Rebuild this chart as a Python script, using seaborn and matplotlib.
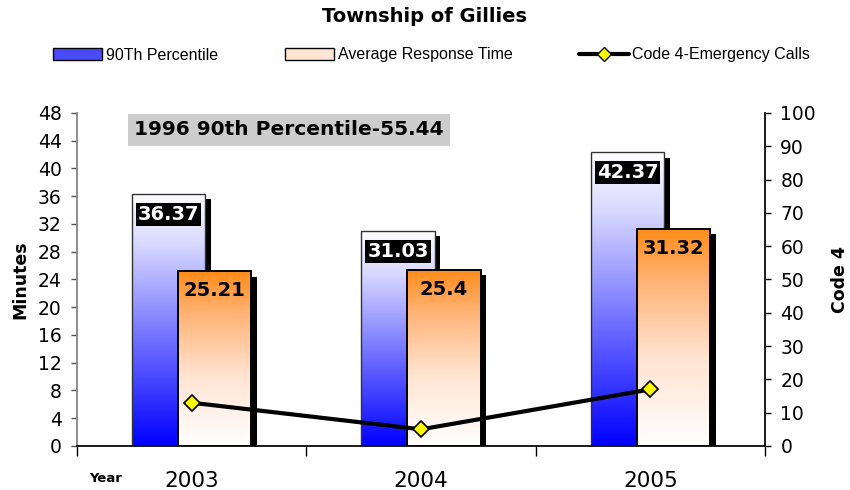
import numpy as np
import pandas as pd
import matplotlib
matplotlib.use("Agg")
import matplotlib.pyplot as plt
import matplotlib.patheffects as pe
from matplotlib.colors import LinearSegmentedColormap
from matplotlib.patches import Rectangle, Patch
from matplotlib.lines import Line2D
import seaborn as sns

# --- chart data ---
years = ["2003", "2004", "2005"]
pct90 = [36.37, 31.03, 42.37]
avg_resp = [25.21, 25.4, 31.32]
code4_calls = [13, 5, 17]
series_names = ["90Th Percentile", "Average Response Time"]
line_name = "Code 4-Emergency Calls"
note = "1996 90th Percentile-55.44"
title = "Township of Gillies"

sns.set_theme(style="white")
plt.rcParams["font.family"] = ["DejaVu Sans"]
plt.rcParams.update({"text.color": "black", "axes.labelcolor": "black",
                     "xtick.color": "black", "ytick.color": "black"})

df = pd.DataFrame({
    "Year": years * 2,
    "Series": [series_names[0]] * len(years) + [series_names[1]] * len(years),
    "Minutes": pct90 + avg_resp,
})

fig = plt.figure(figsize=(8.5, 4.9), dpi=100)
ax = fig.add_axes([0.0906, 0.0898, 0.8094, 0.6796])

sns.barplot(data=df, x="Year", y="Minutes", hue="Series", order=years,
            hue_order=series_names, width=0.4, errorbar=None, legend=False, ax=ax)

# gradient fills, shadows and outlines
blue_cmap = LinearSegmentedColormap.from_list(
    "blu", [(0, "#0000ff"), (0.45, "#7878ff"), (0.8, "#d8d8ff"), (1, "#ffffff")])
orange_cmap = LinearSegmentedColormap.from_list(
    "org", [(0, "#ffffff"), (0.4, "#ffe4d2"), (0.75, "#ffb478"), (1, "#ff8c1a")])
grad = np.linspace(0, 1, 256).reshape(-1, 1)

styles = [(blue_cmap, "#333333", 1.0, 2), (orange_cmap, "black", 1.4, 3)]
for cont, (cmap, ec, lw, z) in zip(ax.containers, styles):
    for p in cont:
        cx = p.get_x() + p.get_width() / 2
        p.set_width(0.32)
        p.set_x(cx - 0.16)
        p.set_facecolor("white")
        p.set_edgecolor("none")
        p.set_zorder(z)
        p.set_path_effects([pe.SimplePatchShadow(offset=(4, -4), shadow_rgbFace="black", alpha=1.0),
                            pe.Normal()])
        x0, w, h = p.get_x(), p.get_width(), p.get_height()
        im = ax.imshow(grad, extent=[x0, x0 + w, 0, h], origin="lower", cmap=cmap,
                       aspect="auto", zorder=z + 0.1, interpolation="bilinear")
        im.set_clip_path(p)
        ax.add_patch(Rectangle((x0, 0), w, h, fill=False, ec=ec, lw=lw, zorder=z + 0.2))

ax.set_xlim(-0.5, len(years) - 0.5)
ax.set_ylim(0, 48)
ax.set_yticks(np.arange(0, 49, 4))

# value labels
for p, v in zip(ax.containers[0], pct90):
    ax.annotate(f"{v:g}", (p.get_x() + p.get_width() / 2, p.get_height()),
                xytext=(0, -15), textcoords="offset points", ha="center", va="center",
                color="white", fontweight="bold", fontsize=14, zorder=10,
                bbox=dict(boxstyle="square,pad=0.1", fc="black", ec="none"))
for p, v in zip(ax.containers[1], avg_resp):
    ax.annotate(f"{v:g}", (p.get_x() + p.get_width() / 2, p.get_height()),
                xytext=(0, -14), textcoords="offset points", ha="center", va="center",
                color="black", fontweight="bold", fontsize=14, zorder=10)

# Code 4 line on the right axis
ax2 = ax.twinx()
sns.pointplot(x=years, y=code4_calls, ax=ax2, color="black", marker="D",
              linewidth=3, markersize=8, markeredgewidth=1.2, errorbar=None)
for ln in ax2.lines:
    ln.set_markerfacecolor("#ffff00")
    ln.set_markeredgecolor("black")
ax2.set_ylim(0, 100)
ax2.set_yticks(np.arange(0, 101, 10))
ax2.set_xlim(-0.5, len(years) - 0.5)

# axes styling
ax.set_xticks(range(len(years)))
ax.set_xticklabels(years)
ax.set_xticks(np.arange(-0.5, len(years)), minor=True)
ax.tick_params(axis="x", which="major", length=0, pad=18, labelsize=15.5)
ax.tick_params(axis="x", which="minor", bottom=True, length=7, width=1, color="black", direction="out")
ax.tick_params(axis="y", left=True, length=4, width=1, color="#555555", labelsize=13.5, pad=7)
ax2.tick_params(axis="y", right=True, length=4, width=1, color="black", labelsize=13.5, pad=7)
ax.set_xlabel("")
ax.set_ylabel("Minutes", fontweight="bold", fontsize=12.5, labelpad=6)
ax2.set_ylabel("Code 4", fontweight="bold", fontsize=12.5, labelpad=11)

for s in ["top"]:
    ax.spines[s].set_visible(False)
    ax2.spines[s].set_visible(False)
ax2.spines["left"].set_visible(False)
ax2.spines["bottom"].set_visible(False)
ax.spines["left"].set_color("#808080")
ax.spines["bottom"].set_color("black")
ax2.spines["right"].set_color("black")
ax.spines["right"].set_visible(False)

ax.text(0.308, 0.949, note, transform=ax.transAxes, ha="center", va="center",
        fontweight="bold", fontsize=14.5, zorder=10,
        bbox=dict(boxstyle="square,pad=0.3", fc="#cdcdcd", ec="none"))

fig.text(0.5, 1 - 17 / 490, title, ha="center", va="center", fontweight="bold", fontsize=14)
fig.text(0.124, 1 - 478 / 490, "Year", ha="center", va="center", fontweight="bold", fontsize=9.5)

handles = [
    Patch(facecolor="#4a4aff", edgecolor="black"),
    Patch(facecolor="#ffe6d4", edgecolor="black"),
    Line2D([], [], color="black", lw=3, marker="D", markerfacecolor="#ffff00",
           markeredgecolor="black", markersize=7),
]
fig.legend(handles, series_names + [line_name], loc="center", bbox_to_anchor=(0.5076, 1 - 55 / 490),
           ncol=3, frameon=False, handlelength=3.1, handleheight=0.8, handletextpad=0.2,
           columnspacing=4.2, prop={"family": "Liberation Sans", "size": 11.5})

fig.savefig("out.png", dpi=100)
